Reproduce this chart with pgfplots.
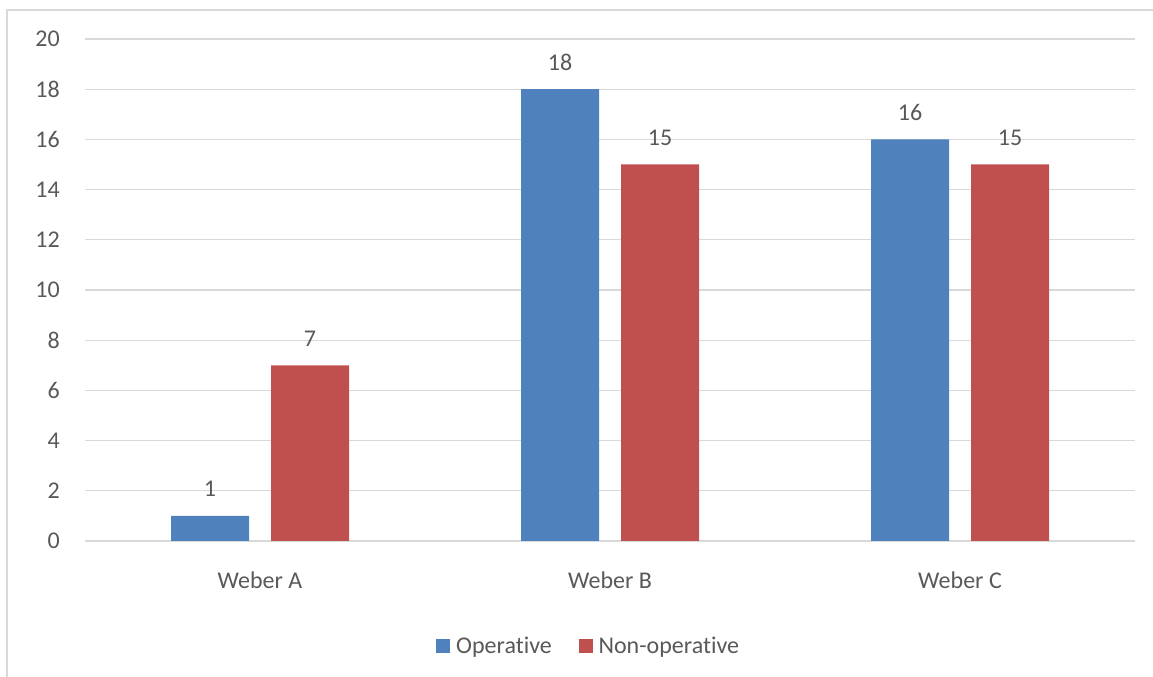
\documentclass[border=0pt]{standalone}
\usepackage{pgfplots}
\pgfplotsset{compat=1.18}
\usepackage{fontspec}
\setmainfont{Carlito}[RawFeature={-liga;-clig;-calt;-dlig}]
\definecolor{txt}{HTML}{595959}
\definecolor{grd}{HTML}{D9D9D9}
\definecolor{blu}{HTML}{4F81BD}
\definecolor{rd}{HTML}{C0504D}
\begin{document}
\begin{tikzpicture}
\useasboundingbox (0,0) rectangle (864.75pt,507.75pt);
\draw[grd, line width=1.5pt] (5.25pt,-5pt) -- (5.25pt,500.25pt) -- (875pt,500.25pt);
\begin{axis}[
  at={(63.75pt,102pt)}, anchor=south west,
  scale only axis, width=787.5pt, height=376.5pt,
  xmin=-0.5, xmax=2.5, ymin=0, ymax=20,
  ytick={0,2,...,20},
  xtick={0,1,2}, xticklabels={Weber A,Weber B,Weber C},
  axis line style={draw=none},
  major tick length=0pt,
  ymajorgrids, grid style={grd, line width=1pt},
  /pgf/number format/assume math mode=true,
  tick label style={font=\fontsize{18}{22}\selectfont, text=txt},
  yticklabel style={anchor=east, inner sep=0pt, xshift=-18.75pt},
  xticklabel style={anchor=north, inner sep=0pt, yshift=-23pt},
  legend style={at={(0.48,-0.209)}, anchor=center, draw=none, legend columns=2,
    font=\fontsize{18}{22}\selectfont, text=txt,
    nodes={inner sep=2pt},
    /tikz/every even column/.append style={column sep=18pt}},
  legend image code/.code={\fill[#1] (0pt,-5.25pt) rectangle (10.5pt,5.25pt);},
]
\addplot[ybar, bar width=58.5pt, bar shift=-37.5pt, fill=blu, draw=none,
  nodes near coords,
  every node near coord/.append style={font=\fontsize{18}{22}\selectfont, text=txt, anchor=south, inner sep=0pt, yshift=14pt, xshift=-37.5pt}]
  coordinates {(0,1) (1,18) (2,16)};
\addlegendentry{\hspace{2.5pt}Operative}
\addplot[ybar, bar width=58.5pt, bar shift=37.5pt, fill=rd, draw=none,
  nodes near coords,
  every node near coord/.append style={font=\fontsize{18}{22}\selectfont, text=txt, anchor=south, inner sep=0pt, yshift=14pt, xshift=37.5pt}]
  coordinates {(0,7) (1,15) (2,15)};
\addlegendentry{\hspace{2.5pt}Non-operative}
\end{axis}
\end{tikzpicture}
\end{document}
